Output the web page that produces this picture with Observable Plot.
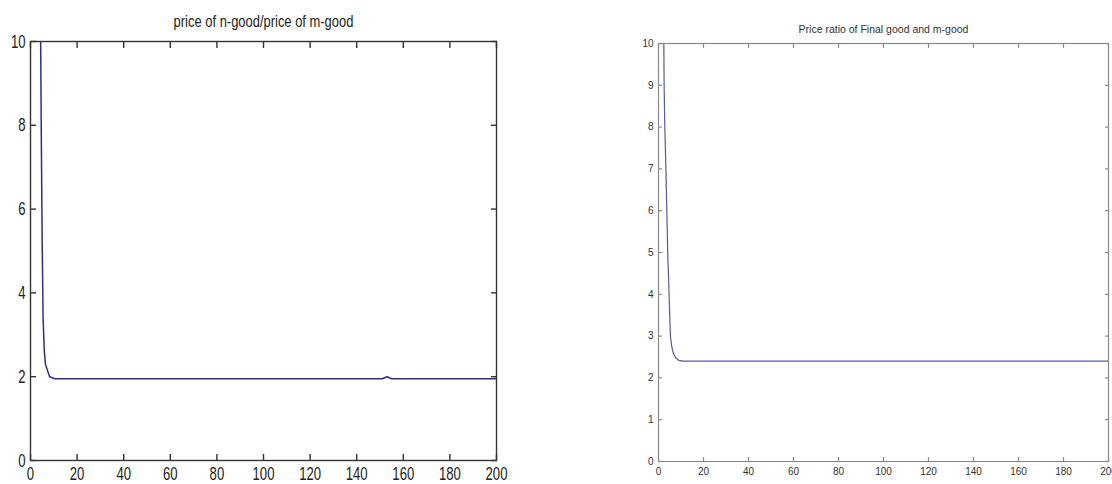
<!DOCTYPE html>
<html><head><meta charset="utf-8">
<script src="https://cdn.jsdelivr.net/npm/d3@7"></script>
<script src="https://cdn.jsdelivr.net/npm/@observablehq/plot@0.6"></script>
<style>
body{margin:0;background:#fff;}
#wrap{position:relative;width:1112px;height:484px;overflow:hidden;background:#fff;}
#left{position:absolute;left:0;top:0;}
#right{position:absolute;left:560px;top:0;}
svg{overflow:visible;}
</style></head><body><div id="wrap"><div id="left"></div><div id="right"></div></div>
<script>
// Left panel data
const leftTitle = "price of n-good/price of m-good";
const leftX = [4.3, 4.6, 5.0, 5.4, 5.9, 6.4, 8.2, 10.4, 151, 153, 155, 200];
const leftY = [10.5, 8.0, 5.3, 3.4, 2.65, 2.3, 2.0, 1.95, 1.95, 2.0, 1.95, 1.95];
const leftYTicks = [0, 2, 4, 6, 8, 10];

// Right panel data
const rightTitle = "Price ratio of Final good and m-good";
const rightX = [2.3, 2.5, 2.8, 3.3, 3.7, 4.1, 4.7, 5.3, 5.8, 6.5, 7.6, 9.0, 11, 200];
const rightY = [10.5, 9, 8, 7, 6, 5, 4, 3, 2.78, 2.6, 2.48, 2.42, 2.4, 2.4];
const rightYTicks = [0, 1, 2, 3, 4, 5, 6, 7, 8, 9, 10];

const xTicks = [0, 20, 40, 60, 80, 100, 120, 140, 160, 180, 200];

function panel(o) {
  const data = o.xs.map((x, i) => ({x, y: o.ys[i]}));
  return Plot.plot({
    width: o.width, height: o.height,
    marginLeft: o.ml, marginRight: o.mr, marginTop: o.mt, marginBottom: o.mb,
    style: {fontFamily: o.font, fontSize: o.fontSize + "px", background: "transparent", overflow: "visible"},
    x: {domain: [0, 200], label: null},
    y: {domain: [0, 10], label: null},
    marks: [
      Plot.lineY(data, {x: "x", y: "y", stroke: o.lineColor, strokeWidth: o.lineWidth, clip: true}),
      Plot.frame({stroke: o.frameColor, strokeWidth: o.frameWidth}),
      Plot.axisX({anchor: "bottom", ticks: xTicks, tickSize: -o.tick, tickPadding: o.xPad + o.tick, tickFormat: d => String(d), color: o.frameColor, fill: o.textColor, fontSize: o.fontSize, strokeWidth: o.frameWidth}),
      Plot.axisX({anchor: "top", ticks: xTicks, tickSize: -o.tick, tickFormat: () => "", color: o.frameColor, strokeWidth: o.frameWidth}),
      Plot.axisY({anchor: "left", ticks: o.yTicks, tickSize: -o.tick, tickPadding: o.yPad + o.tick, tickFormat: d => String(d), color: o.frameColor, fill: o.textColor, fontSize: o.fontSize, strokeWidth: o.frameWidth}),
      Plot.axisY({anchor: "right", ticks: o.yTicks, tickSize: -o.tick, tickFormat: () => "", color: o.frameColor, strokeWidth: o.frameWidth}),
      Plot.text([o.title], {text: d => d, frameAnchor: "top", dy: o.titleDy, lineAnchor: "middle", fontSize: o.titleSize, fill: o.textColor})
    ]
  });
}

const leftSvg = panel({
  xs: leftX, ys: leftY, title: leftTitle, yTicks: leftYTicks,
  width: 530, height: 484, ml: 30, mr: 34, mt: 41, mb: 24,
  font: "'Liberation Sans', Arial, sans-serif",
  fontSize: 19, titleSize: 16, tick: 6, xPad: 6, yPad: 5, titleDy: -20,
  frameColor: "#333", textColor: "#222", lineColor: "#2e2e8a", lineWidth: 1.5, frameWidth: 1.4
});
document.getElementById("left").appendChild(leftSvg);
// condense the left panel's text horizontally (the reference is a narrow face)
leftSvg.querySelectorAll("text").forEach(t => {
  const s = t.textContent;
  if (!s) return;
  const perChar = s.length > 5 ? 5.8 : 7.3;
  t.setAttribute("textLength", (s.length * perChar).toFixed(1));
  t.setAttribute("lengthAdjust", "spacingAndGlyphs");
});

document.getElementById("right").appendChild(panel({
  xs: rightX, ys: rightY, title: rightTitle, yTicks: rightYTicks,
  width: 552, height: 484, ml: 98, mr: 4, mt: 43, mb: 23,
  font: "'Liberation Sans', Arial, sans-serif",
  fontSize: 10, titleSize: 10.5, tick: 4, xPad: 6, yPad: 5, titleDy: -14,
  frameColor: "#8a8a8a", textColor: "#333", lineColor: "#5a5a9a", lineWidth: 1.2, frameWidth: 1.2
}));
</script>
</body></html>
